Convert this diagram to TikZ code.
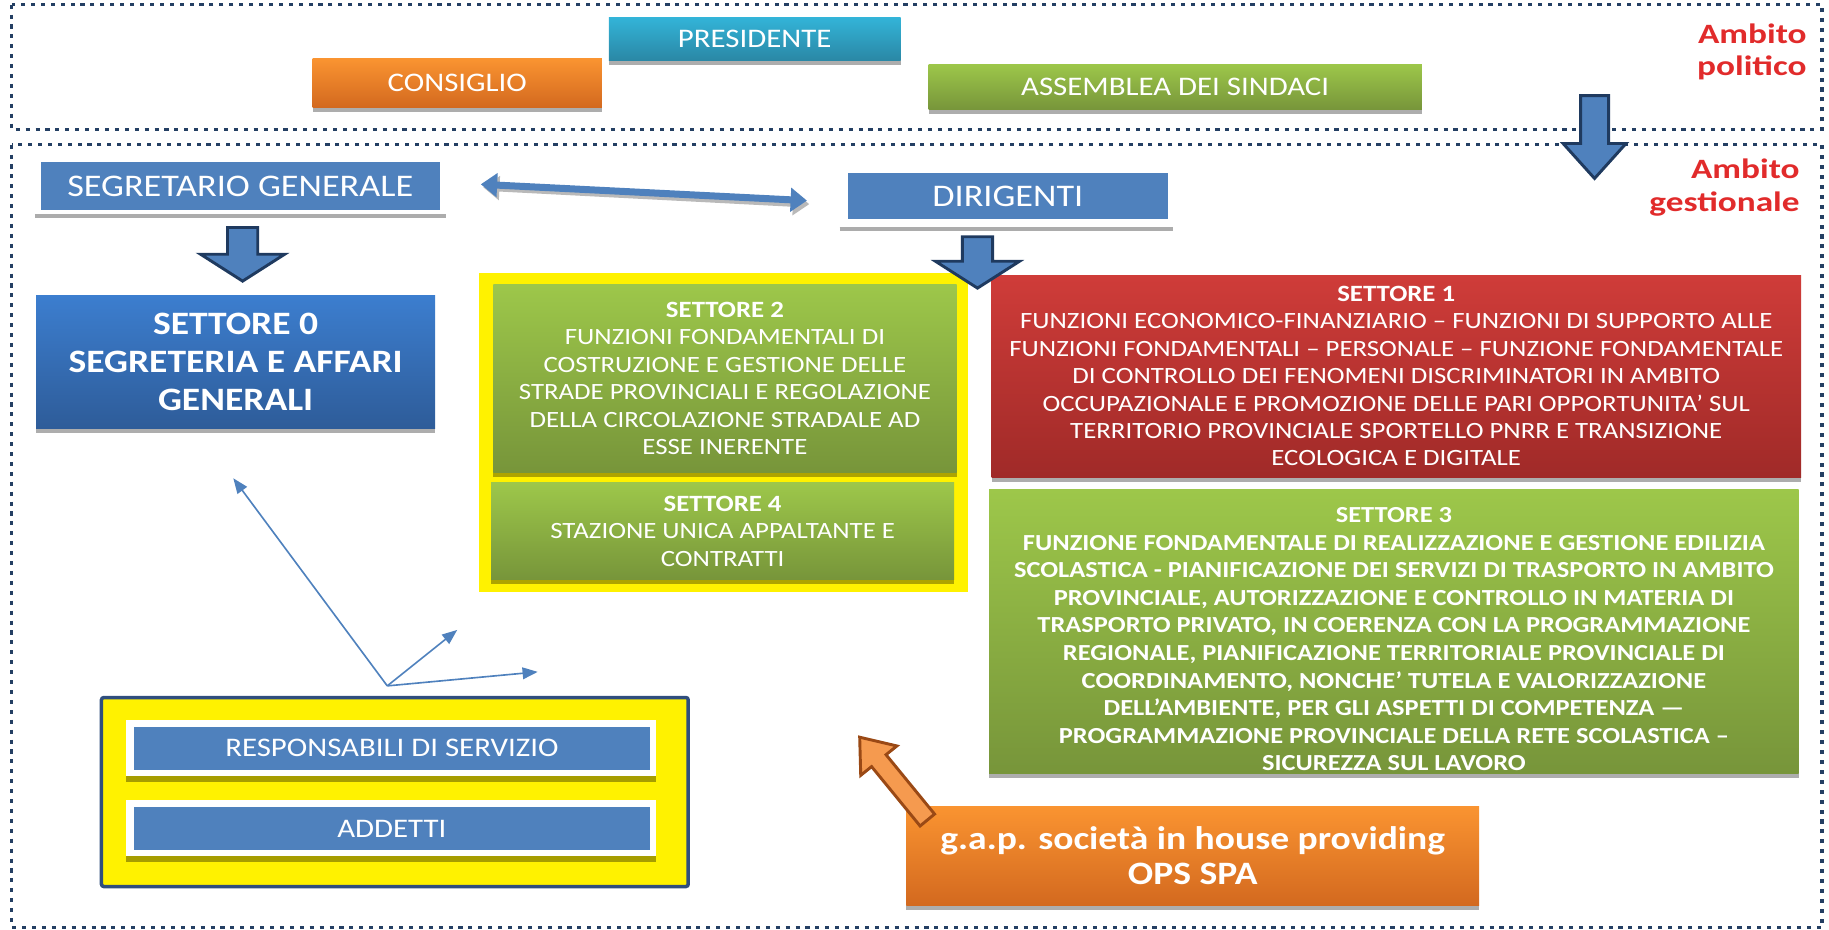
\documentclass[tikz,border=0pt]{standalone}
\usepackage{fontspec}
\setmainfont[FakeStretch=1.15]{Carlito}
\newfontfamily\ambitofont[FakeStretch=1.26]{Carlito}
\usetikzlibrary{arrows.meta,positioning,shadows,fit,backgrounds}

\definecolor{flatblue}{HTML}{4F81BD}
\definecolor{arrowedge}{HTML}{1F3A5F}
\definecolor{dotblue}{HTML}{243F63}
\definecolor{ambitored}{HTML}{E12B2B}
\definecolor{tealtop}{HTML}{33B4D8}
\definecolor{tealbot}{HTML}{2A87A5}
\definecolor{orangetop}{HTML}{FA9431}
\definecolor{orangebot}{HTML}{D3691F}
\definecolor{greentop}{HTML}{9DC74A}
\definecolor{greenbot}{HTML}{77953A}
\definecolor{redtop}{HTML}{CF3C39}
\definecolor{redbot}{HTML}{A02A28}
\definecolor{bluetop}{HTML}{3C7ECF}
\definecolor{bluebot}{HTML}{2E5C99}
\definecolor{framebord}{HTML}{2F4E7D}
\definecolor{gaparrow}{HTML}{F59A4F}
\definecolor{gapedge}{HTML}{9A4915}

\tikzset{
    ambito/.style={dotblue, line width=3pt, dash pattern=on 3.5pt off 5pt},
    ambitolabel/.style={ambitored, font=\ambitofont\bfseries\fontsize{24}{28}\selectfont, align=right, inner sep=0pt},
    card/.style={rectangle, inner sep=0pt, align=center, text=white,
        general shadow={fill=black, opacity=0.32, shadow yshift=-4pt}},
    tealcard/.style={card, top color=tealtop, bottom color=tealbot},
    orangecard/.style={card, top color=orangetop, bottom color=orangebot},
    greencard/.style={card, top color=greentop, bottom color=greenbot},
    redcard/.style={card, top color=redtop, bottom color=redbot},
    bluecard/.style={card, top color=bluetop, bottom color=bluebot},
    toplabel/.style={font=\fontsize{23}{26}\selectfont},
    flatcard/.style={rectangle, inner sep=0pt, fill=flatblue, text=white, font=\fontsize{27}{30}\selectfont},
    underline/.style={gray!65, line width=4pt},
    settore/.style={font=\fontsize{20}{23.5}\selectfont},
    boldsettore/.style={font=\bfseries\fontsize{19.7}{23.6}\selectfont},
    whitestrip/.style={rectangle, fill=white, minimum width=454pt, minimum height=48pt,
        general shadow={fill=black, opacity=0.35, shadow yshift=-5pt}},
    staffcard/.style={rectangle, fill=flatblue, text=white, minimum width=442pt, minimum height=37pt,
        font=\fontsize{23}{26}\selectfont},
    blockarrow/.style={fill=flatblue, draw=arrowedge, line width=2.5pt},
    thinarrow/.style={flatblue, line width=1.4pt, -{Triangle[length=13pt,width=10pt]}},
    dblarrow/.style={flatblue, line width=6pt, {Triangle[length=14pt,width=20pt]}-{Triangle[length=14pt,width=20pt]}},
    dblshadow/.style={dblarrow, gray!55}
}

\begin{document}
\begin{tikzpicture}[x=1pt,y=-1pt]
    \useasboundingbox (0,0) rectangle (1568,797);

    \draw[ambito] (10,4) rectangle (1562,111);
    \draw[ambito] (10,124) rectangle (1562,795);

    \node[ambitolabel, anchor=north east] (polit) at (1549,20) {Ambito\\politico};
    \node[ambitolabel, anchor=north east] (gest) at (1543,136) {Ambito\\gestionale};

    \node[tealcard, toplabel, minimum width=250pt, minimum height=37pt] (pres) at (647,33.5) {PRESIDENTE};
    \node[orangecard, toplabel, minimum width=248pt, minimum height=42pt] (cons) at (392,71) {CONSIGLIO};
    \node[greencard, toplabel, minimum width=423pt, minimum height=39pt] (assem) at (1007.5,74.5) {ASSEMBLEA DEI SINDACI};

    \draw[blockarrow] (1355,82) -- (1379,82) -- (1379,123) -- (1394,123) -- (1367,153)
        -- (1340,123) -- (1355,123) -- cycle;

    \node[flatcard, minimum width=342pt, minimum height=41pt] (seg) at (206,159.5) {SEGRETARIO GENERALE};
    \node[flatcard, minimum width=274pt, minimum height=40pt] (dir) at (864,168) {DIRIGENTI};
    \draw[underline] ([xshift=-5pt,yshift=-5pt]seg.south west) -- ([xshift=5pt,yshift=-5pt]seg.south east);
    \draw[underline] ([xshift=-7pt,yshift=-8pt]dir.south west) -- ([xshift=4pt,yshift=-8pt]dir.south east);

    \draw[dblshadow] ([xshift=37pt,yshift=-1pt]seg.east) -- ([xshift=-33pt,yshift=-7pt]dir.west);
    \draw[dblarrow] ([xshift=35pt,yshift=1.5pt]seg.east) -- ([xshift=-35pt,yshift=-4pt]dir.west);

    \draw[blockarrow] (195,195) -- (221,195) -- (221,218) -- (244,218) -- (208,241)
        -- (172,218) -- (195,218) -- cycle;

    \node[bluecard, font=\bfseries\fontsize{28}{32.5}\selectfont, minimum width=342pt, minimum height=114pt]
        (s0) at (202,310) {SETTORE 0\\SEGRETERIA E AFFARI\\GENERALI};

    \node[greencard, settore, minimum width=397pt, minimum height=161pt] (s2) at (621.5,324.5)
        {\textbf{SETTORE 2}\\FUNZIONI FONDAMENTALI DI\\COSTRUZIONE E GESTIONE DELLE\\STRADE PROVINCIALI E REGOLAZIONE\\DELLA CIRCOLAZIONE STRADALE AD\\ESSE INERENTE};
    \node[greencard, settore, minimum width=397pt, minimum height=83pt] (s4) at (619.5,455.5)
        {\textbf{SETTORE 4}\\STAZIONE UNICA APPALTANTE E\\CONTRATTI};
    \begin{scope}[on background layer]
        \node[fill=yellow, fit=(s2)(s4), inner xsep=10pt, inner ysep=10pt] (frame24) {};
    \end{scope}

    \node[redcard, settore, minimum width=694pt, minimum height=173pt] (s1) at (1197,322.5)
        {\textbf{SETTORE 1}\\FUNZIONI ECONOMICO-FINANZIARIO – FUNZIONI DI SUPPORTO ALLE\\FUNZIONI FONDAMENTALI – PERSONALE – FUNZIONE FONDAMENTALE\\DI CONTROLLO DEI FENOMENI DISCRIMINATORI IN AMBITO\\OCCUPAZIONALE E PROMOZIONE DELLE PARI OPPORTUNITA’ SUL\\TERRITORIO PROVINCIALE SPORTELLO PNRR E TRANSIZIONE\\ECOLOGICA E DIGITALE};
    \node[greencard, boldsettore, minimum width=694pt, minimum height=243pt] (s3) at (1195,541.5)
        {\rule{0pt}{26pt}SETTORE 3\\FUNZIONE FONDAMENTALE DI REALIZZAZIONE E GESTIONE EDILIZIA\\SCOLASTICA - PIANIFICAZIONE DEI SERVIZI DI TRASPORTO IN AMBITO\\PROVINCIALE, AUTORIZZAZIONE E CONTROLLO IN MATERIA DI\\TRASPORTO PRIVATO, IN COERENZA CON LA PROGRAMMAZIONE\\REGIONALE, PIANIFICAZIONE TERRITORIALE PROVINCIALE DI\\COORDINAMENTO, NONCHE’ TUTELA E VALORIZZAZIONE\\DELL’AMBIENTE, PER GLI ASPETTI DI COMPETENZA —\\PROGRAMMAZIONE PROVINCIALE DELLA RETE SCOLASTICA –\\SICUREZZA SUL LAVORO};

    \draw[blockarrow] (825,203) -- (851,203) -- (851,224) -- (874,224) -- (838,247)
        -- (802,224) -- (825,224) -- cycle;

    \coordinate (hub) at (332,588);
    \coordinate (tip1) at (200,410);
    \coordinate (tip2) at (392,540);
    \coordinate (tip3) at (461,576);
    \draw[thinarrow] (hub) -- (tip1);
    \draw[thinarrow] (hub) -- (tip2);
    \draw[thinarrow] (hub) -- (tip3);

    \node[fill=yellow, draw=framebord, line width=3pt, rounded corners=2pt, minimum width=503pt, minimum height=162pt]
        (staff) at (338.5,679) {};
    \node[whitestrip] (respbg) at (335,641) {};
    \node[staffcard] (resp) at (336,641.5) {RESPONSABILI DI SERVIZIO};
    \node[whitestrip] (addbg) at (335,710) {};
    \node[staffcard] (add) at (336,710.5) {ADDETTI};

    \node[orangecard, font=\bfseries\fontsize{28}{30}\selectfont, minimum width=491pt, minimum height=85pt]
        (gap) at (1022.5,733.5) {g.a.p. società in house providing\\OPS SPA};
    \draw[fill=gaparrow, draw=gapedge, line width=2.5pt] (801.2,697.9) -- (788.8,708.1) -- (747.2,657.2)
        -- (737.9,664.7) -- (737,632) -- (768.9,639.5) -- (759.6,647.0) -- cycle;

\end{tikzpicture}
\end{document}
